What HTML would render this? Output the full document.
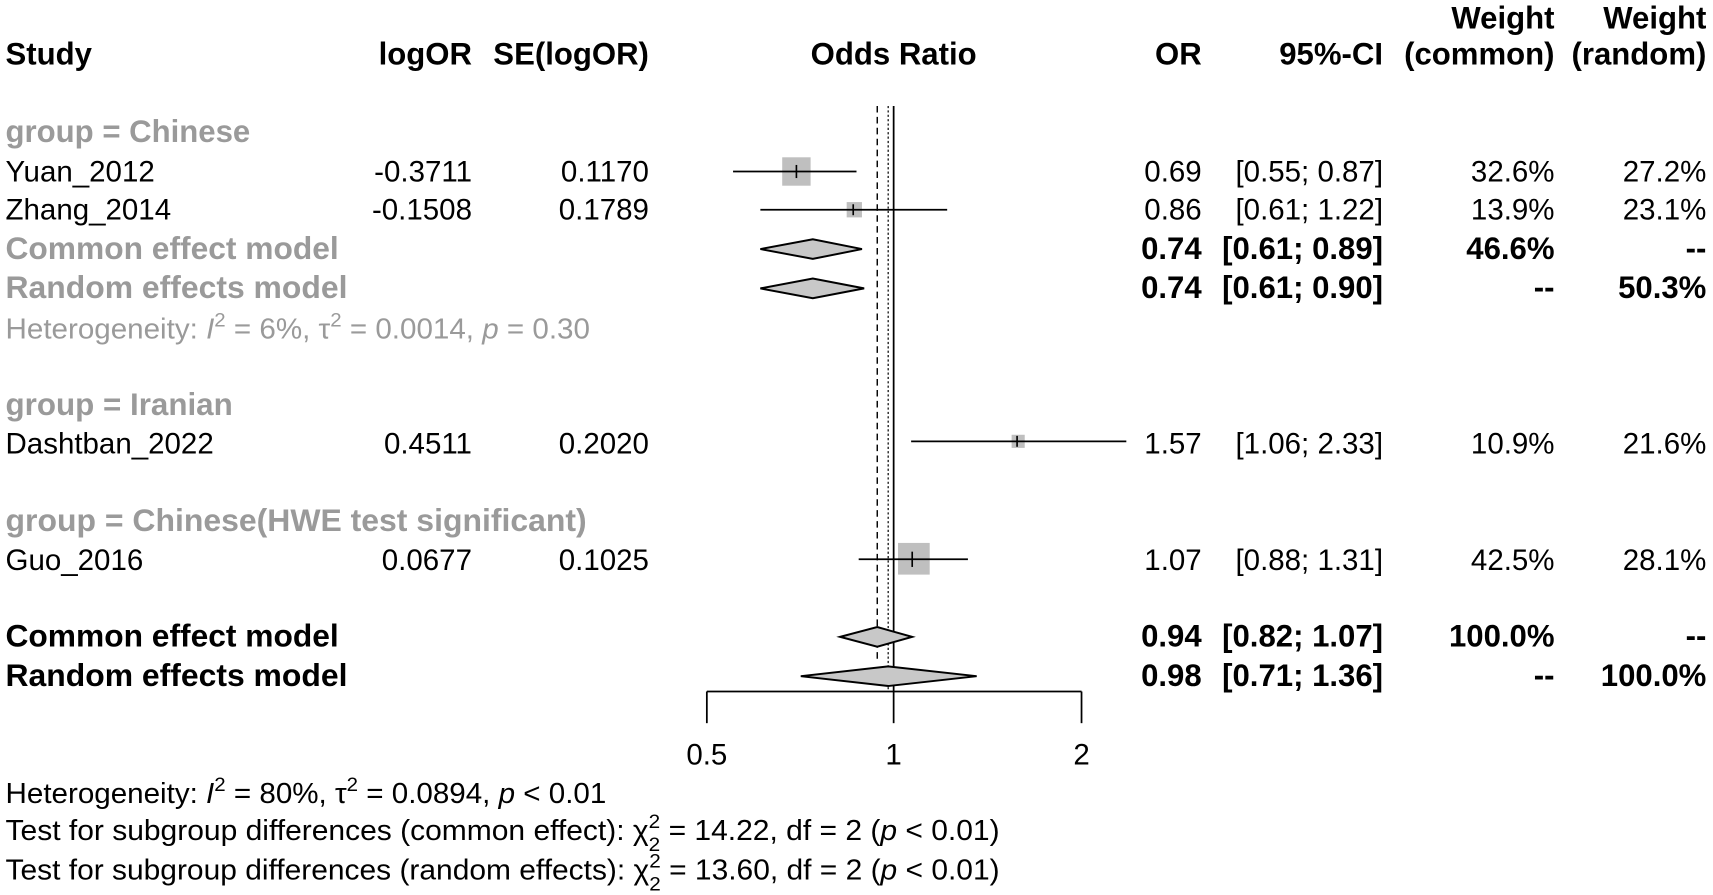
<!DOCTYPE html>
<html><head><meta charset="utf-8"><style>
html,body{margin:0;padding:0;background:#fff}
svg{display:block}
text{font-family:"Liberation Sans",Arial,sans-serif;font-size:27px;fill:#000}
.b{font-weight:bold;font-size:28.5px}
.g{fill:#9a9a9a}
.r{text-anchor:end}
.m{text-anchor:middle}
.sm{font-size:18px}
</style></head><body>
<svg width="1713" height="895" viewBox="0 0 1568 819.3" xmlns="http://www.w3.org/2000/svg">
<text class="b r" x="1423" y="26">Weight</text>
<text class="b r" x="1562" y="26">Weight</text>
<text class="b" x="5" y="59">Study</text>
<text class="b r" x="432" y="59">logOR</text>
<text class="b r" x="594" y="59">SE(logOR)</text>
<text class="b m" x="818" y="59">Odds Ratio</text>
<text class="b r" x="1100" y="59">OR</text>
<text class="b r" x="1266" y="59">95%-CI</text>
<text class="b r" x="1423" y="59">(common)</text>
<text class="b r" x="1562" y="59">(random)</text>

<text class="b g" x="5" y="130">group = Chinese</text>
<text x="5" y="166">Yuan_2012</text><text class="r" x="432" y="166">-0.3711</text><text class="r" x="594" y="166">0.1170</text>
<text class="r" x="1100" y="166">0.69</text><text class="r" x="1266" y="166">[0.55; 0.87]</text><text class="r" x="1423" y="166">32.6%</text><text class="r" x="1562" y="166">27.2%</text>
<text x="5" y="201">Zhang_2014</text><text class="r" x="432" y="201">-0.1508</text><text class="r" x="594" y="201">0.1789</text>
<text class="r" x="1100" y="201">0.86</text><text class="r" x="1266" y="201">[0.61; 1.22]</text><text class="r" x="1423" y="201">13.9%</text><text class="r" x="1562" y="201">23.1%</text>
<text class="b g" x="5" y="237" textLength="305" lengthAdjust="spacingAndGlyphs">Common effect model</text>
<text class="b r" x="1100" y="237">0.74</text><text class="b r" x="1266" y="237">[0.61; 0.89]</text><text class="b r" x="1423" y="237">46.6%</text><text class="b r" x="1562" y="237">--</text>
<text class="b g" x="5" y="273" textLength="313" lengthAdjust="spacingAndGlyphs">Random effects model</text>
<text class="b r" x="1100" y="273">0.74</text><text class="b r" x="1266" y="273">[0.61; 0.90]</text><text class="b r" x="1423" y="273">--</text><text class="b r" x="1562" y="273">50.3%</text>
<text class="g" x="5" y="310" style="font-size:26px" textLength="535" lengthAdjust="spacingAndGlyphs">Heterogeneity: <tspan font-style="italic" class="g">I</tspan><tspan class="sm" dy="-11">2</tspan><tspan dy="11"> = 6%, τ</tspan><tspan class="sm" dy="-11">2</tspan><tspan dy="11"> = 0.0014, </tspan><tspan font-style="italic">p</tspan> = 0.30</text>

<text class="b g" x="5" y="380" textLength="208" lengthAdjust="spacingAndGlyphs">group = Iranian</text>
<text x="5" y="415">Dashtban_2022</text><text class="r" x="432" y="415">0.4511</text><text class="r" x="594" y="415">0.2020</text>
<text class="r" x="1100" y="415">1.57</text><text class="r" x="1266" y="415">[1.06; 2.33]</text><text class="r" x="1423" y="415">10.9%</text><text class="r" x="1562" y="415">21.6%</text>

<text class="b g" x="5" y="486" textLength="532" lengthAdjust="spacingAndGlyphs">group = Chinese(HWE test significant)</text>
<text x="5" y="522">Guo_2016</text><text class="r" x="432" y="522">0.0677</text><text class="r" x="594" y="522">0.1025</text>
<text class="r" x="1100" y="522">1.07</text><text class="r" x="1266" y="522">[0.88; 1.31]</text><text class="r" x="1423" y="522">42.5%</text><text class="r" x="1562" y="522">28.1%</text>

<text class="b" x="5" y="592" textLength="305" lengthAdjust="spacingAndGlyphs">Common effect model</text>
<text class="b r" x="1100" y="592">0.94</text><text class="b r" x="1266" y="592">[0.82; 1.07]</text><text class="b r" x="1423" y="592">100.0%</text><text class="b r" x="1562" y="592">--</text>
<text class="b" x="5" y="628" textLength="313" lengthAdjust="spacingAndGlyphs">Random effects model</text>
<text class="b r" x="1100" y="628">0.98</text><text class="b r" x="1266" y="628">[0.71; 1.36]</text><text class="b r" x="1423" y="628">--</text><text class="b r" x="1562" y="628">100.0%</text>

<line x1="818" y1="97" x2="818" y2="633" stroke="#000" stroke-width="1.6"/>
<line x1="803" y1="97" x2="803" y2="606" stroke="#000" stroke-width="1.3" stroke-dasharray="6,4"/>
<line x1="813" y1="97" x2="813" y2="633" stroke="#000" stroke-width="1.1" stroke-dasharray="2,2"/>

<rect x="716" y="144" width="26" height="26" fill="#bfbfbf"/>
<line x1="671" y1="157" x2="784" y2="157" stroke="#000" stroke-width="1.6"/>
<line x1="729" y1="151" x2="729" y2="163" stroke="#000" stroke-width="1.5"/>
<rect x="775" y="185" width="14" height="14" fill="#bfbfbf"/>
<line x1="696" y1="192" x2="867" y2="192" stroke="#000" stroke-width="1.6"/>
<line x1="781" y1="187" x2="781" y2="197" stroke="#000" stroke-width="1.5"/>
<rect x="926" y="398" width="12" height="12" fill="#bfbfbf"/>
<line x1="834" y1="404" x2="1031" y2="404" stroke="#000" stroke-width="1.6"/>
<line x1="931" y1="399" x2="931" y2="409" stroke="#000" stroke-width="1.5"/>
<rect x="822" y="497" width="29" height="29" fill="#bfbfbf"/>
<line x1="786" y1="512" x2="886" y2="512" stroke="#000" stroke-width="1.6"/>
<line x1="835" y1="505" x2="835" y2="519" stroke="#000" stroke-width="1.5"/>

<polygon points="696,228 744,219 789,228 744,237" fill="#c8c8c8" stroke="#000" stroke-width="1.8"/>
<polygon points="696,264 744,255 791,264 744,273" fill="#c8c8c8" stroke="#000" stroke-width="1.8"/>
<polygon points="769,583 803,574 835,583 803,592" fill="#c8c8c8" stroke="#000" stroke-width="1.8"/>
<polygon points="733,619 813,610 894,619 813,628" fill="#c8c8c8" stroke="#000" stroke-width="1.8"/>

<line x1="647" y1="633" x2="990" y2="633" stroke="#000" stroke-width="1.6"/>
<line x1="647" y1="633" x2="647" y2="662" stroke="#000" stroke-width="1.6"/>
<line x1="818" y1="633" x2="818" y2="662" stroke="#000" stroke-width="1.6"/>
<line x1="990" y1="633" x2="990" y2="662" stroke="#000" stroke-width="1.6"/>
<text class="m" x="647" y="700">0.5</text>
<text class="m" x="818" y="700">1</text>
<text class="m" x="990" y="700">2</text>

<text x="5" y="735" style="font-size:26px" textLength="550" lengthAdjust="spacingAndGlyphs">Heterogeneity: <tspan font-style="italic">I</tspan><tspan class="sm" dy="-11">2</tspan><tspan dy="11"> = 80%, τ</tspan><tspan class="sm" dy="-11">2</tspan><tspan dy="11"> = 0.0894, </tspan><tspan font-style="italic">p</tspan> &lt; 0.01</text>
<text x="5" y="769" style="font-size:26px" textLength="910" lengthAdjust="spacingAndGlyphs">Test for subgroup differences (common effect): χ<tspan class="sm" dy="-11">2</tspan><tspan class="sm" dx="-10" dy="21">2</tspan><tspan dy="-10"> = 14.22, df = 2 (</tspan><tspan font-style="italic">p</tspan> &lt; 0.01)</text>
<text x="5" y="805" style="font-size:26px" textLength="910" lengthAdjust="spacingAndGlyphs">Test for subgroup differences (random effects): χ<tspan class="sm" dy="-11">2</tspan><tspan class="sm" dx="-10" dy="21">2</tspan><tspan dy="-10"> = 13.60, df = 2 (</tspan><tspan font-style="italic">p</tspan> &lt; 0.01)</text>
</svg>
</body></html>
